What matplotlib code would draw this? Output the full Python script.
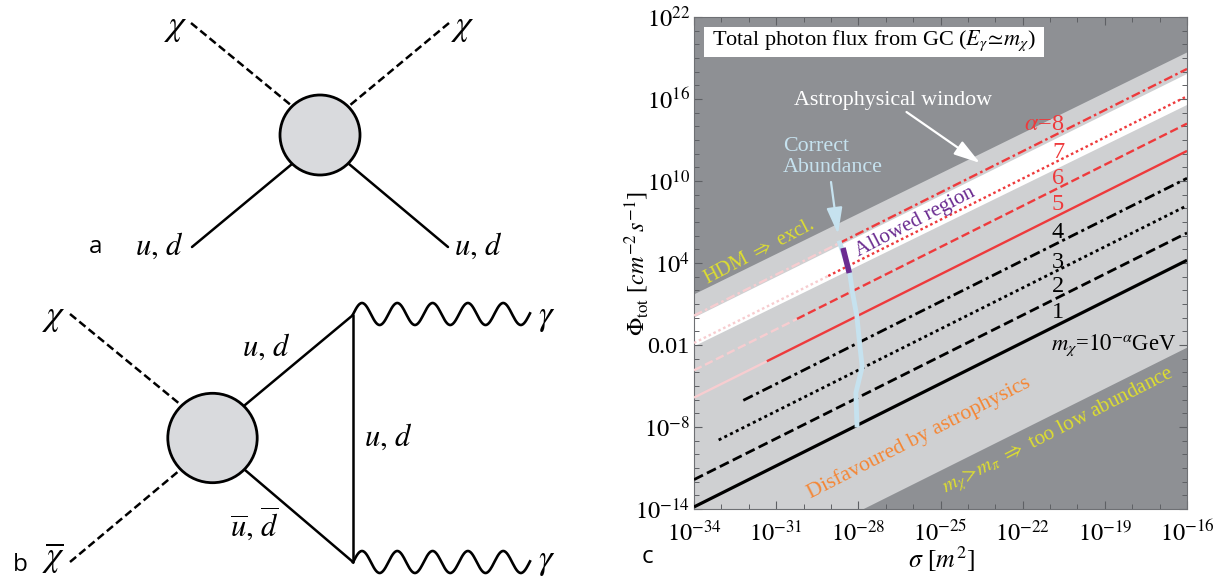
import numpy as np
import matplotlib
matplotlib.use('Agg')
import matplotlib.pyplot as plt
from matplotlib.patches import Ellipse, Rectangle
from matplotlib.ticker import FixedLocator, FixedFormatter, NullFormatter

plt.rcParams['font.family'] = ['Liberation Serif', 'DejaVu Serif']
plt.rcParams['mathtext.fontset'] = 'stix'

# exponents
sigma_edges = [-34, -16]
alphas = [1, 2, 3, 4, 5, 6, 7, 8]
phi_left = [-13.85, -11.85, -9.85, -7.85, -5.85, -3.85, -1.85, 0.15]
phi_right = [4.2, 6.2, 8.2, 10.2, 12.2, 14.2, 16.2, 18.2]
split_sigma = [None, None, -33.1, -32.2, -31.34, -30.24, -29.1, -28.7]
split_phi = [None, None, -8.95, -6.05, -3.19, -0.09, 3.05, 5.45]

light_sigma = [-34, -16, -16, -27.8, -34]
light_phi = [1.7, 19.4, -2.2, -14, -14]
white_sigma = [-34, -16, -16, -34]
white_phi = [0.0, 17.83, 15.56, -2.1]

abundance_sigma = [-28.68, -28.33, -28.21, -28.05, -27.94, -27.86, -28.09, -28.05]
abundance_phi = [5.47, 3.49, 1.81, 0.05, -2.14, -3.60, -5.50, -7.85]
allowed_sigma = [-28.56, -28.33]
allowed_phi = [5.1, 3.27]

x_exp = [-34, -31, -28, -25, -22, -19, -16]
y_exp = [-14, -8, -2, 4, 10, 16, 22]
y_labels = ['$10^{-14}$', '$10^{-8}$', '0.01', '$10^{4}$', '$10^{10}$', '$10^{16}$', '$10^{22}$']

DARK = '#8e9094'
LIGHT = '#cfd0d2'
RED = '#ee3a3c'
PINK = '#f7cdd0'
BLUE = '#c6e2ef'
PURPLE = '#6b2c91'
YELLOW = '#dede30'
ORANGE = '#f58634'
styles = [(0, ()), (0, (3.6, 1.6)), (0, (1.1, 1.2)), (0, (3.8, 1.4, 1.1, 1.4))] * 2

fig = plt.figure(figsize=(12.2, 5.77), dpi=100)
ax = fig.add_axes([694 / 1220, 1 - 509 / 577, 493 / 1220, 492 / 577])
ax.set_facecolor(DARK)
ax.set_xscale('log')
ax.set_yscale('log')
ax.set_xlim(1e-34, 1e-16)
ax.set_ylim(1e-14, 1e22)


def p10(vals):
    return 10.0 ** np.array(vals, dtype=float)


ax.fill(p10(light_sigma), p10(light_phi), color=LIGHT, lw=0)
ax.fill(p10(white_sigma), p10(white_phi), color='white', lw=0)

for i, a in enumerate(alphas):
    col = RED if a >= 5 else 'black'
    lw = 2.3 if a == 1 else (1.7 if a >= 5 else 2.0)
    end = (sigma_edges[1], phi_right[i])
    if split_sigma[i] is None:
        start = (sigma_edges[0], phi_left[i])
    else:
        start = (split_sigma[i], split_phi[i])
        if a >= 5:
            ax.plot(p10([sigma_edges[0], split_sigma[i]]), p10([phi_left[i], split_phi[i]]),
                    color=PINK, lw=lw, ls=styles[i], zorder=3)
    ax.plot(p10([start[0], end[0]]), p10([start[1], end[1]]), color=col, lw=lw, ls=styles[i], zorder=3)

ax.plot(p10(abundance_sigma), p10(abundance_phi), color=BLUE, lw=3.5, zorder=4)
ax.plot(p10(allowed_sigma), p10(allowed_phi), color=PURPLE, lw=4, zorder=5, solid_capstyle='butt')

for axis, exps, labs in [(ax.xaxis, x_exp, ['$10^{%d}$' % e for e in x_exp]), (ax.yaxis, y_exp, y_labels)]:
    axis.set_major_locator(FixedLocator(p10(exps)))
    axis.set_major_formatter(FixedFormatter(labs))
    lo, hi = exps[0], exps[-1]
    axis.set_minor_locator(FixedLocator(p10(list(range(lo, hi + 1)))))
    axis.set_minor_formatter(NullFormatter())
ax.tick_params(which='major', direction='in', length=6, width=0.8, color='#5e6064', top=True, right=True,
               labelsize=17.5, labelcolor='black')
ax.tick_params(which='minor', direction='in', length=3.5, width=0.7, color='#5e6064', top=True, right=True)
ax.tick_params(axis='x', which='major', pad=8)
ax.tick_params(axis='y', which='major', pad=3)
for s in ax.spines.values():
    s.set_color('#6e7074')
    s.set_linewidth(0.8)

# overlay in pixel coordinates for diagrams and annotations
ov = fig.add_axes([0, 0, 1, 1], zorder=10)
ov.set_xlim(0, 1220)
ov.set_ylim(577, 0)
ov.axis('off')


def txt(x, y, s, size=15, color='black', rot=0, **kw):
    ha = kw.pop('ha', 'center')
    ov.text(x, y, s, fontsize=size, color=color, rotation=rot, ha=ha, va='center',
            rotation_mode='anchor', **kw)


def seg(x0, y0, x1, y1, dashed=False, lw=1.8):
    ov.plot([x0, x1], [y0, y1], color='black', lw=lw, ls=(0, (3.2, 1.6)) if dashed else '-',
            solid_capstyle='round')


def blob(x, y, r):
    ov.add_patch(Ellipse((x, y), 2 * r, 2 * r, fc='#d9dadd', ec='black', lw=2, zorder=3))


def wave(x0, x1, y):
    xs = np.linspace(x0, x1, 300)
    ov.plot(xs, y - 11 * np.cos(2 * np.pi * (xs - 362) / 35.3), color='black', lw=1.9)


# diagram a
blob(320, 135, 40)
seg(191, 23, 292, 106, True)
seg(449, 23, 349, 106, True)
seg(192, 247, 292, 164)
seg(448, 247, 349, 164)
txt(176, 28, r'$\chi$', 26)
txt(463, 28, r'$\chi$', 26)
txt(160, 247, r'$u,\,d$', 22)
txt(479, 247, r'$u,\,d$', 22)
sans = ['Open Sans', 'DejaVu Sans']
txt(96, 247, 'a', 17.5, family=sans)

# diagram b
blob(212.5, 438, 44.7)
seg(70, 314, 181, 405, True)
seg(70, 562, 180, 470, True)
seg(245, 405, 353, 315)
seg(245, 470, 353, 562)
seg(353, 315, 353, 562)
wave(353, 530, 314)
wave(353, 530, 562)
txt(54, 318, r'$\chi$', 26)
txt(54, 558, r'$\overline{\chi}$', 25)
txt(267, 348, r'$u,\,d$', 22)
txt(389, 438, r'$u,\,d$', 22)
txt(255, 525, r'$\overline{u},\,\overline{d}$', 22)
txt(547, 318, r'$\gamma$', 25)
txt(547, 561, r'$\gamma$', 25)
txt(20, 565, 'b', 17.5, family=sans)
txt(647, 557, 'c', 17.5, family=sans)

# chart labels
txt(637, 263, r'$\Phi_{\mathrm{tot}}$ [$cm^{-2}\,s^{-1}$]', 17.3, rot=90)
txt(941, 559, r'$\sigma$ [$m^{2}$]', 18.5)
ov.add_patch(Rectangle((704, 27), 340, 30, fc='white', ec='none'))
txt(874, 41, r'Total photon flux from GC ($E_{\gamma}\!\simeq\! m_{\chi}$)', 16)
txt(892.6, 100, 'Astrophysical window', 15.8, 'white')
txt(783, 157, 'Correct\nAbundance', 15.8, BLUE, ha='left', linespacing=1.2)
head = '-|>,head_length=0.8,head_width=0.24'
ov.annotate('', xy=(980, 163), xytext=(906.5, 112),
            arrowprops=dict(arrowstyle=head, color='white', lw=1.6, mutation_scale=20, shrinkA=0, shrinkB=0))
ov.annotate('', xy=(838, 234), xytext=(831, 182),
            arrowprops=dict(arrowstyle=head, color=BLUE, lw=1.6, mutation_scale=20, shrinkA=0, shrinkB=0))

txt(1044, 125, r'$\alpha$=8', 17.5, RED)
for n, y, c in [('7', 152, RED), ('6', 178, RED), ('5', 204, RED), ('4', 232, 'black'), ('3', 262, 'black'),
                ('2', 287, 'black'), ('1', 313, 'black')]:
    txt(1058, y, n, 17.5, c)
txt(1114, 345, r'$m_{\chi}$=$10^{-\alpha}$GeV', 16.3)
txt(919, 438, 'Disfavoured by astrophysics', 15.7, ORANGE, rot=27)
txt(1058, 431, r'$m_{\chi}\!>\!m_{\pi}$ $\Rightarrow$ too low abundance', 15.1, YELLOW, rot=27)
txt(759, 252, r'HDM $\Rightarrow$ excl.', 14.7, YELLOW, rot=27.5)
txt(915.5, 222, 'Allowed region', 15.2, PURPLE, rot=27.5)

fig.savefig('out.png', dpi=100)
